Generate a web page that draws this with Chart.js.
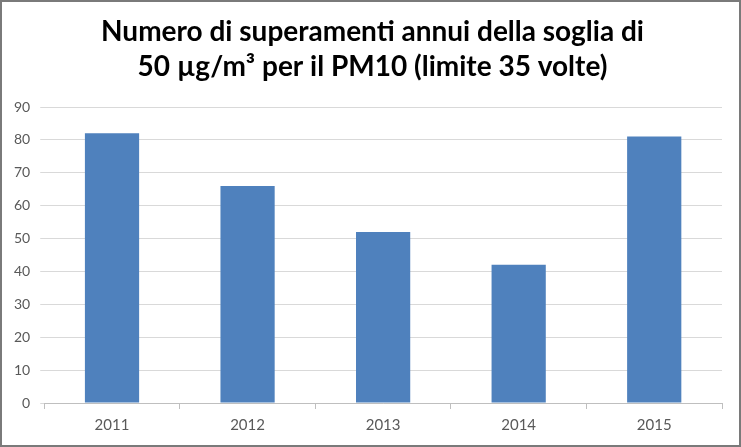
<!DOCTYPE html>
<html>
<head>
<meta charset="utf-8">
<script src="https://cdn.jsdelivr.net/npm/chart.js@4.4.0/dist/chart.umd.min.js"></script>
<style>
  html, body { margin: 0; padding: 0; background: #fff; }
  #wrap { width: 741px; height: 447px; position: relative; }
</style>
</head>
<body>
<div id="wrap"><canvas id="c" width="741" height="447"></canvas></div>
<script>
const categories = ["2011", "2012", "2013", "2014", "2015"];
const exceedances = [82, 66, 52, 42, 81];
const yTicks = [0, 10, 20, 30, 40, 50, 60, 70, 80, 90];
const titleLines = ["Numero di superamenti annui della soglia di", "50 µg/m³ per il PM10 (limite 35 volte)"];

const borderPlugin = {
  id: 'frame',
  afterDraw(chart) {
    const ctx = chart.ctx;
    ctx.save();
    ctx.strokeStyle = '#7a7a7a';
    ctx.lineWidth = 2;
    ctx.strokeRect(1, 1, chart.width - 2, chart.height - 2);
    ctx.restore();
  }
};

new Chart(document.getElementById('c'), {
  type: 'bar',
  data: {
    labels: categories,
    datasets: [{
      data: exceedances,
      backgroundColor: '#4f81bd',
      borderWidth: 0,
      barPercentage: 0.4,
      categoryPercentage: 1.0,
      yAxisID: 'y'
    }]
  },
  options: {
    responsive: false,
    animation: false,
    devicePixelRatio: 1,
    layout: { padding: { left: 4, right: 0, top: 0, bottom: 6 } },
    plugins: {
      legend: { display: false },
      tooltip: { enabled: false },
      title: {
        display: true,
        text: titleLines,
        color: '#000',
        font: { family: 'Lato', size: 28, weight: 'bold', lineHeight: 1.25 },
        padding: { top: 14, bottom: 23 }
      }
    },
    scales: {
      x: {
        grid: { display: true, drawOnChartArea: false, drawTicks: true, tickLength: 6, color: '#bfbfbf', offset: true },
        border: { display: true, color: '#bfbfbf', width: 1 },
        ticks: { color: '#595959', font: { family: 'Lato', size: 15 }, padding: 7 }
      },
      y: {
        min: 0, max: 90,
        afterBuildTicks(scale) { scale.ticks = yTicks.map(v => ({ value: v })); },
        grid: { color: '#d9d9d9', lineWidth: 1, drawTicks: true, tickLength: 4 },
        border: { display: false },
        ticks: { color: '#595959', font: { family: 'Lato', size: 14 }, padding: 10 }
      },
      yRight: {
        position: 'right',
        min: 0, max: 1,
        grid: { display: false, drawOnChartArea: false },
        border: { display: false },
        ticks: { display: false },
        afterFit(scale) { scale.width = 19; }
      }
    }
  },
  plugins: [borderPlugin]
});
</script>
</body>
</html>
